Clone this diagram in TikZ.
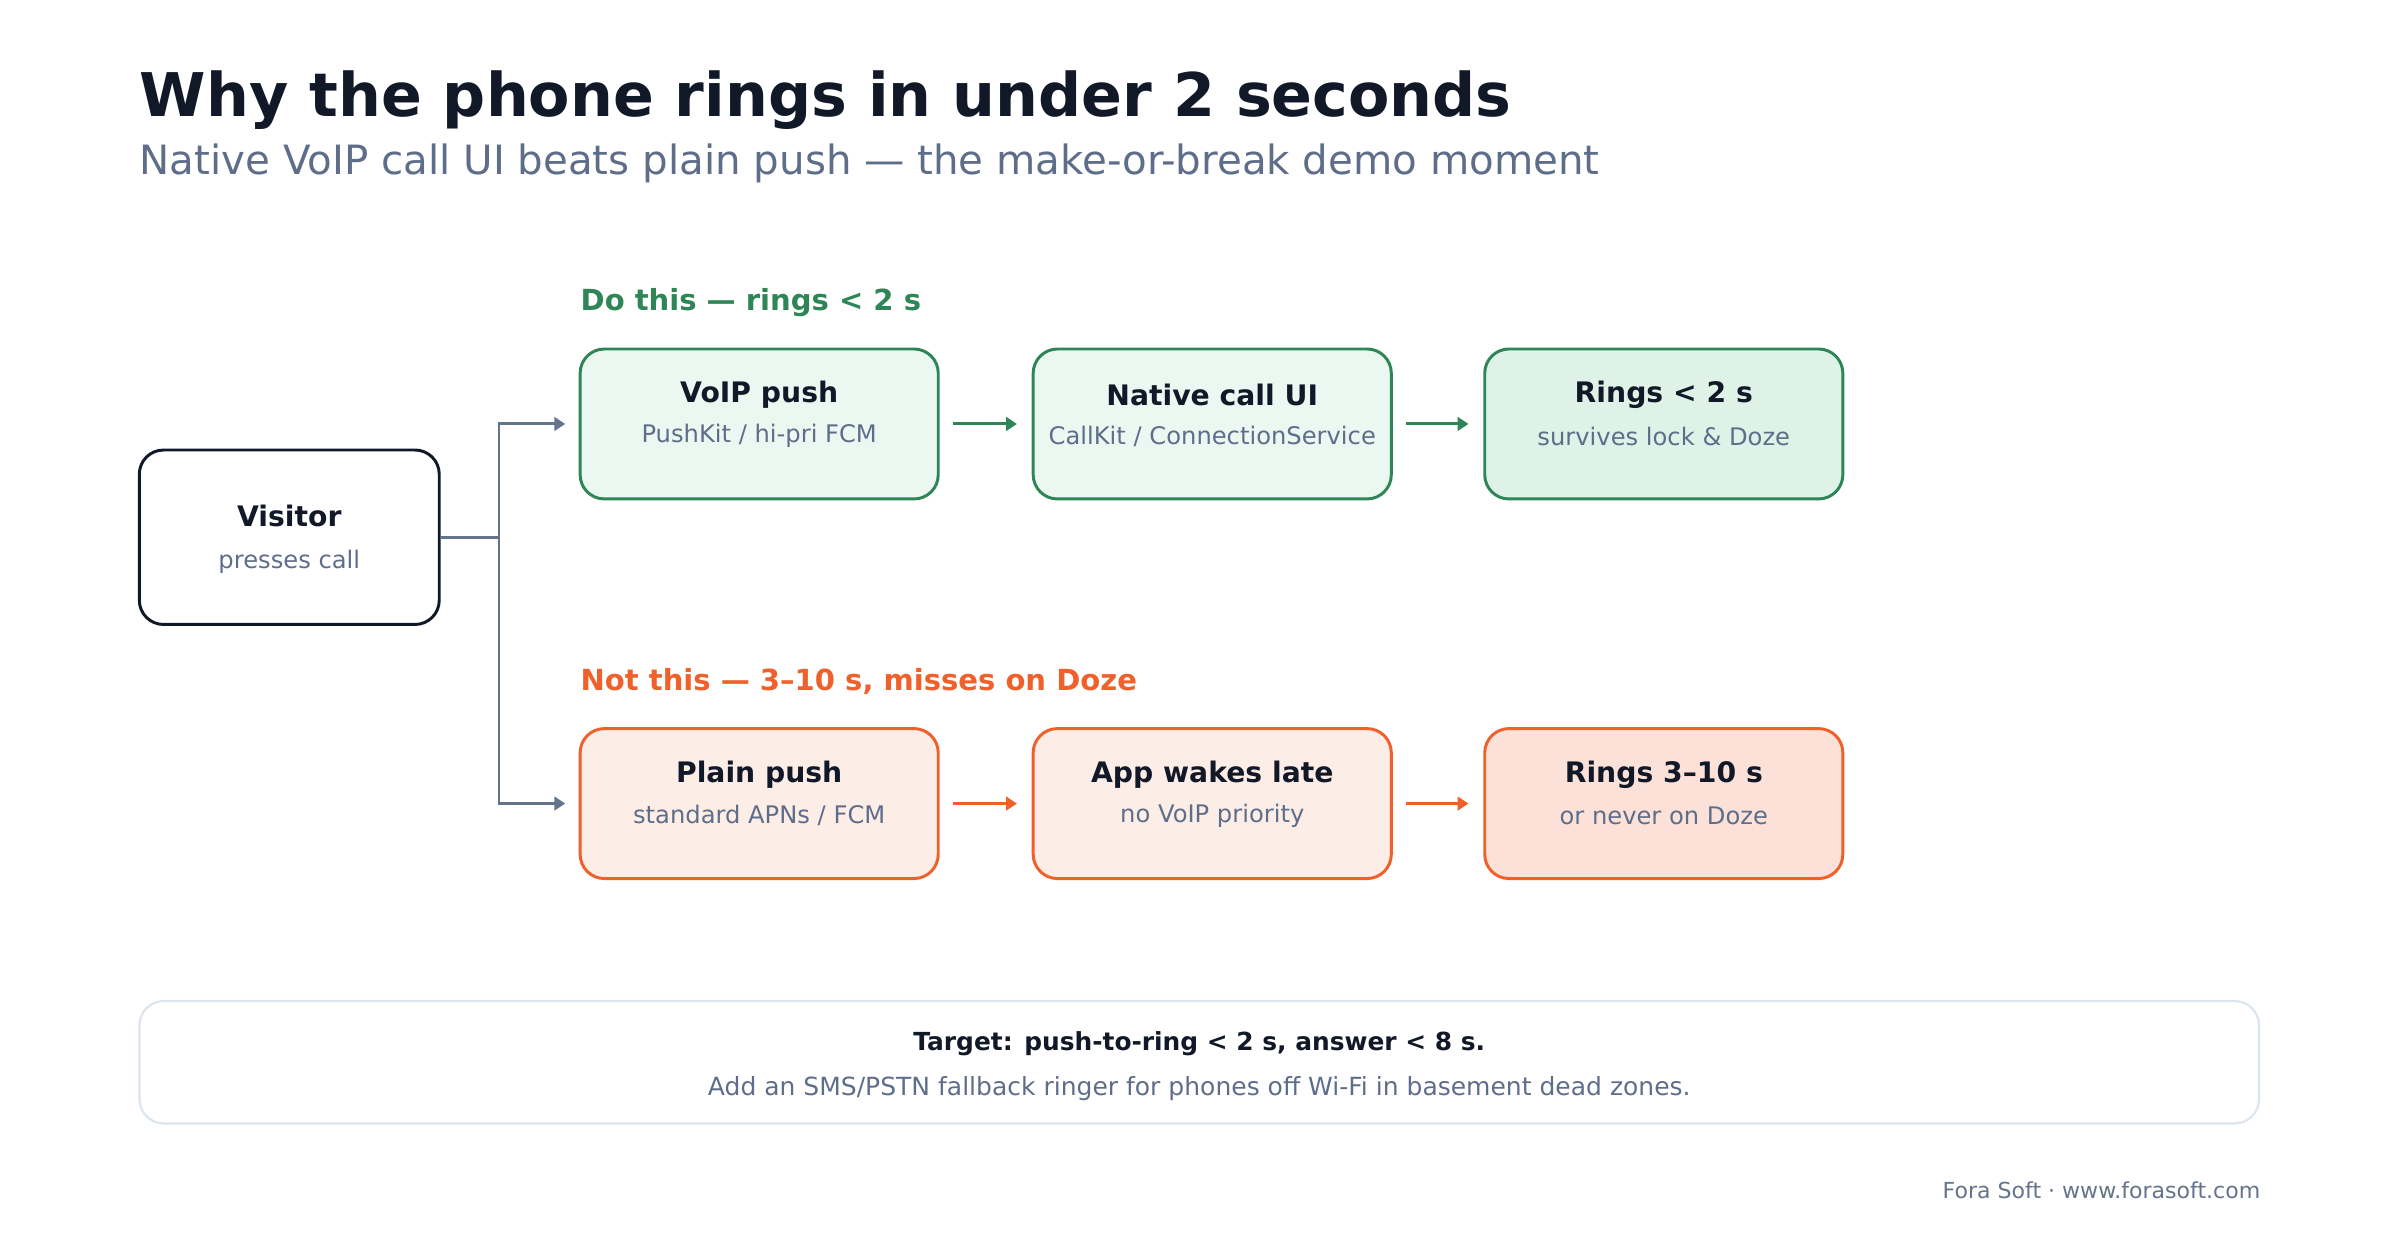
\documentclass[tikz,border=0pt]{standalone}
\usepackage{fontspec}
\setmainfont{DejaVu Sans}
\usetikzlibrary{arrows.meta,positioning}
\definecolor{ink}{HTML}{111827}
\definecolor{muted}{HTML}{5E6E8A}
\definecolor{wire}{HTML}{64748B}
\definecolor{good}{HTML}{2E8555}
\definecolor{goodfill}{HTML}{EAF8F1}
\definecolor{goodlast}{HTML}{DFF2E7}
\definecolor{bad}{HTML}{F0602A}
\definecolor{badfill}{HTML}{FDEDE7}
\definecolor{badlast}{HTML}{FCE1D8}
\definecolor{note}{HTML}{DCE4EE}
\tikzset{
  stage/.style={draw, line width=1.1pt, rounded corners=9pt, minimum width=4.68cm, minimum height=1.96cm},
  head/.style={font=\bfseries\fontsize{10.5}{12}\selectfont, text=ink},
  sub/.style={font=\fontsize{9}{11}\selectfont, text=muted},
  lane/.style={anchor=base west, inner sep=0pt, font=\bfseries\fontsize{10.8}{13}\selectfont},
  link/.style={line width=1.1pt, -{Triangle[length=4pt,width=5pt]}}
}
\begin{document}
\begin{tikzpicture}[x=0.02cm,y=-0.02cm]
\useasboundingbox (0,0) rectangle (1568,810);
% Title
\node[anchor=base west, inner sep=0pt, font=\bfseries\fontsize{22.4}{26}\selectfont, text=ink] (title) at (91,76) {Why the phone rings in under 2 seconds};
\node[anchor=base west, inner sep=0pt, font=\fontsize{15}{17}\selectfont, text=muted] (subtitle) at (91,114) {Native VoIP call UI beats plain push — the make-or-break demo moment};
% Visitor
\node[draw=ink, line width=1.1pt, rounded corners=9pt, minimum width=3.92cm, minimum height=2.28cm] (visitor) at (189,351) {};
\node[head] at (189,337) {Visitor};
\node[sub] at (189,367) {presses call};
% Lane labels
\node[lane, text=good] (dolbl) at (379,203) {Do this — rings < 2 s};
\node[lane, text=bad] (notlbl) at (379,451) {Not this — 3–10 s, misses on Doze};
% Good lane
\node[stage, draw=good, fill=goodfill] (voip) at (496,277) {};
\node[head] at (496,258) {VoIP push};
\node[sub] at (496,285) {PushKit / hi-pri FCM};
\node[stage, draw=good, fill=goodfill] (native) at (792,277) {};
\node[head] at (792,258) {Native call UI};
\node[sub] at (792,285) {CallKit / ConnectionService};
\node[stage, draw=good, fill=goodlast] (fast) at (1087,277) {};
\node[head] at (1087,258) {Rings < 2 s};
\node[sub] at (1087,285) {survives lock \& Doze};
% Bad lane
\node[stage, draw=bad, fill=badfill] (plain) at (496,525) {};
\node[head] at (496,506) {Plain push};
\node[sub] at (496,533) {standard APNs / FCM};
\node[stage, draw=bad, fill=badfill] (late) at (792,525) {};
\node[head] at (792,506) {App wakes late};
\node[sub] at (792,533) {no VoIP priority};
\node[stage, draw=bad, fill=badlast] (slow) at (1087,525) {};
\node[head] at (1087,506) {Rings 3–10 s};
\node[sub] at (1087,533) {or never on Doze};
% Fork
\coordinate (fork) at (326,351);
\draw[line width=1.1pt, wire] (visitor.east) -- (fork);
\draw[link, wire] (fork) |- ([xshift=-5pt]voip.west);
\draw[link, wire] (fork) |- ([xshift=-5pt]plain.west);
\draw[link, good] ([xshift=5pt]voip.east) -- ([xshift=-5.5pt]native.west);
\draw[link, good] ([xshift=5pt]native.east) -- ([xshift=-5.5pt]fast.west);
\draw[link, bad] ([xshift=5pt]plain.east) -- ([xshift=-5.5pt]late.west);
\draw[link, bad] ([xshift=5pt]late.east) -- ([xshift=-5.5pt]slow.west);
% Note
\node[draw=note, line width=0.8pt, rounded corners=9pt, minimum width=27.7cm, minimum height=1.6cm] (target) at (783.5,694) {};
\node[font=\bfseries\fontsize{9.25}{11}\selectfont, text=ink] at (783.5,682) {Target: push-to-ring < 2 s, answer < 8 s.};
\node[sub, font=\fontsize{9.3}{11}\selectfont] at (783.5,711) {Add an SMS/PSTN fallback ringer for phones off Wi-Fi in basement dead zones.};
\node[anchor=base east, inner sep=0pt, font=\fontsize{8.2}{10}\selectfont, text=wire] (credit) at (1477,783) {Fora Soft · www.forasoft.com};
\end{tikzpicture}
\end{document}
